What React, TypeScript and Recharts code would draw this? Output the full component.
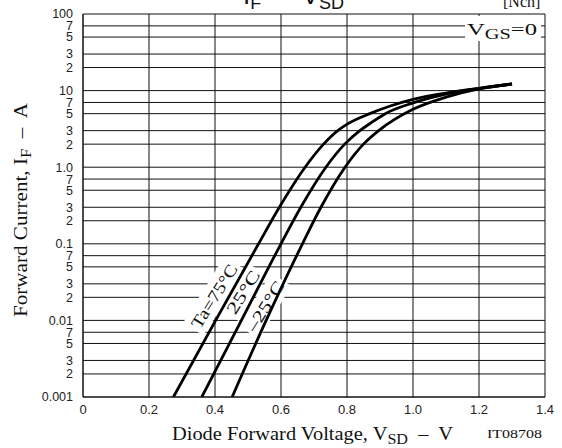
import React from "react";
import { LineChart, Line, XAxis, YAxis, CartesianGrid, Customized } from "recharts";

// axis ticks
const xTicks = [0, 0.2, 0.4, 0.6, 0.8, 1.0, 1.2, 1.4];
const xTickLabels = ["0", "0.2", "0.4", "0.6", "0.8", "1.0", "1.2", "1.4"];
const yTicks = [
  0.001, 0.002, 0.003, 0.005, 0.007,
  0.01, 0.02, 0.03, 0.05, 0.07,
  0.1, 0.2, 0.3, 0.5, 0.7,
  1, 2, 3, 5, 7,
  10, 20, 30, 50, 70,
  100,
];
const yTickLabels = [
  "0.001", "2", "3", "5", "7",
  "0.01", "2", "3", "5", "7",
  "0.1", "2", "3", "5", "7",
  "1.0", "2", "3", "5", "7",
  "10", "2", "3", "5", "7",
  "100",
];

// Ta = 75°C
const v75 = [0.274, 0.402, 0.532, 0.595, 0.673, 0.729, 0.772, 0.797, 0.869, 0.931, 1.0, 1.1, 1.2, 1.3];
const i75 = [0.001, 0.01, 0.1, 0.3, 1.0, 2, 3, 3.57, 5, 6.3, 7.7, 9.3, 10.7, 12.2];
// Ta = 25°C
const v25 = [0.36, 0.48, 0.6, 0.66, 0.736, 0.793, 0.839, 0.871, 0.916, 1.0, 1.1, 1.2, 1.3];
const i25 = [0.001, 0.01, 0.1, 0.3, 1.0, 2, 3, 3.75, 5, 6.9, 9.0, 10.7, 12.2];
// Ta = -25°C
const vm25 = [0.452, 0.555, 0.665, 0.721, 0.794, 0.85, 0.896, 1.0, 1.1, 1.2, 1.3];
const im25 = [0.001, 0.01, 0.1, 0.3, 1.0, 2, 3, 5.7, 8.2, 10.5, 12.2];

const toPoints = (vs: number[], is: number[]) => vs.map((v, k) => ({ v, i: is[k] }));

const curveLabels = [
  { text: "Ta=75°C", x: 214, y: 296, len: 72 },
  { text: "25°C", x: 243, y: 292, len: 48 },
  { text: "–25°C", x: 265, y: 306, len: 56 },
];

const serif = "'Liberation Serif', 'Times New Roman', serif";
const sans = "'Liberation Sans', Arial, sans-serif";

const PlotLabels = () => (
  <g>
    {curveLabels.map((l) => (
      <rect
        key={"r" + l.text}
        x={-l.len / 2 - 3}
        y={-12}
        width={l.len + 6}
        height={24}
        fill="#fff"
        transform={`translate(${l.x},${l.y}) rotate(-58)`}
      />
    ))}
    {curveLabels.map((l) => (
      <text
        key={"t" + l.text}
        x={0}
        y={6}
        textAnchor="middle"
        fontFamily={serif}
        fontSize={17}
        fill="#111"
        textLength={l.len}
        lengthAdjust="spacingAndGlyphs"
        transform={`translate(${l.x},${l.y}) rotate(-58)`}
      >
        {l.text}
      </text>
    ))}
    <rect x={465} y={16} width={76} height={25} fill="#fff" />
    <text x={467} y={35} fontFamily={serif} fontSize={17} fill="#111" textLength={70} lengthAdjust="spacingAndGlyphs">
      V<tspan fontSize={14} dy={4}>GS</tspan>
      <tspan dy={-4}>=0</tspan>
    </text>
  </g>
);

export default function App() {
  return (
    <div style={{ position: "absolute", left: 0, top: 0, width: 562, height: 448, background: "#fff" }}>
      <LineChart width={562} height={448} margin={{ top: 14, right: 17, bottom: 0, left: 0 }}>
        <CartesianGrid stroke="#111" strokeWidth={1} />
        <XAxis
          dataKey="v"
          type="number"
          domain={[0, 1.4]}
          ticks={xTicks}
          tickFormatter={(val: number) => xTickLabels[xTicks.indexOf(val)] ?? ""}
          tickLine={false}
          axisLine={{ stroke: "#111" }}
          height={51}
          tick={{ fontFamily: sans, fontSize: 13, fill: "#222" }}
          allowDataOverflow
        />
        <YAxis
          type="number"
          scale="log"
          domain={[0.001, 100]}
          ticks={yTicks}
          tickFormatter={(val: number) => yTickLabels[yTicks.indexOf(val)] ?? ""}
          tickLine={false}
          tickMargin={4}
          axisLine={{ stroke: "#111" }}
          width={83}
          interval={0}
          tick={{ fontFamily: sans, fontSize: 12.5, fill: "#222" }}
          allowDataOverflow
        />
        <Customized component={<PlotLabels />} />
        <Line data={toPoints(v75, i75)} dataKey="i" type="monotone" stroke="#000" strokeWidth={2.8} dot={false} isAnimationActive={false} />
        <Line data={toPoints(v25, i25)} dataKey="i" type="monotone" stroke="#000" strokeWidth={2.8} dot={false} isAnimationActive={false} />
        <Line data={toPoints(vm25, im25)} dataKey="i" type="monotone" stroke="#000" strokeWidth={2.8} dot={false} isAnimationActive={false} />
      </LineChart>
      <svg width={562} height={448} style={{ position: "absolute", left: 0, top: 0, pointerEvents: "none" }}>
        <text x={243} y={4} fontFamily={sans} fontSize={26} fill="#111" style={{ whiteSpace: "pre" }}>
          I<tspan fontSize={18} dy={5}>F</tspan>
          <tspan dy={-5}>{" — "}</tspan>V<tspan fontSize={18} dy={5}>SD</tspan>
        </text>
        <text x={503} y={7} fontFamily={serif} fontSize={16} fill="#111">[Nch]</text>
        <text
          transform="translate(27,210) rotate(-90)"
          textAnchor="middle"
          fontFamily={serif}
          fontSize={19}
          fill="#111"
          textLength={214}
          lengthAdjust="spacingAndGlyphs"
          style={{ whiteSpace: "pre" }}
        >
          Forward Current, I<tspan fontSize={15} dy={4}>F</tspan>
          <tspan dy={-4}>{"  –  A"}</tspan>
        </text>
        <text
          x={172}
          y={440}
          fontFamily={serif}
          fontSize={19}
          fill="#111"
          textLength={281}
          lengthAdjust="spacingAndGlyphs"
          style={{ whiteSpace: "pre" }}
        >
          Diode Forward Voltage, V<tspan fontSize={15} dy={4}>SD</tspan>
          <tspan dy={-4}>{"  –  V"}</tspan>
        </text>
        <text x={487} y={438} fontFamily={serif} fontSize={13} fill="#111" textLength={55} lengthAdjust="spacingAndGlyphs">
          IT08708
        </text>
      </svg>
    </div>
  );
}
